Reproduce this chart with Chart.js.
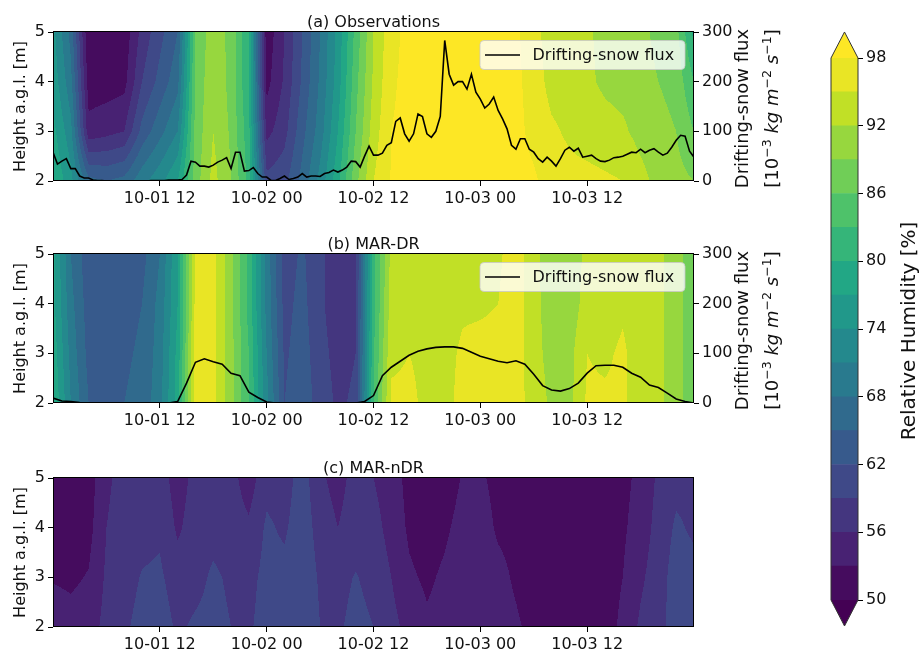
<!DOCTYPE html>
<html>
<head>
<meta charset="utf-8">
<title>Relative humidity and drifting-snow flux</title>
<script src="https://cdn.jsdelivr.net/npm/chart.js@4.4.1/dist/chart.umd.min.js"></script>
<style>
  html, body { margin: 0; padding: 0; background: #fff; }
  #figure { position: relative; width: 920px; height: 650px; overflow: hidden; }
  #figure canvas { position: absolute; }
</style>
</head>
<body>
<div id="figure">
  <canvas id="panelA" width="800" height="222" style="left:0;top:0"></canvas>
  <canvas id="panelB" width="800" height="222" style="left:0;top:222px"></canvas>
  <canvas id="panelC" width="800" height="204" style="left:0;top:446px"></canvas>
  <canvas id="cbar" width="120" height="650" style="left:800px;top:0"></canvas>
</div>
<script>
// RH profiles (filled contours) and drifting-snow flux, 10-01 to 10-04

// ---- data ----
// RH grid columns: hours since 10-01 00, every 2 h
const rhHours = [0, 2, 4, 6, 8, 10, 12, 14, 16, 18, 20, 22, 24, 26, 28, 30, 32, 34, 36,
                 38, 40, 42, 44, 46, 48, 50, 52, 54, 56, 58, 60, 62, 64, 66, 68, 70, 72];
const rhHeights = [2, 3, 4, 5];

// (a) observations, RH [%]
const obsRH5m = [75, 67, 50, 50, 51, 57, 61, 65, 86, 91, 88, 80, 51, 56, 62, 68, 75, 84, 92, 97,
                 99, 99.5, 99.5, 99.5, 99.5, 99, 98.6, 96, 93.5, 93, 92.5, 91, 90.5, 90, 88, 87, 79];
const obsRH4m = [76, 69, 51.5, 51.5, 52, 59, 63, 67, 86.5, 91.5, 88, 80, 52, 56.5, 62.5, 68.5, 75.5, 85, 92.5, 97.5,
                 99, 99.5, 99.5, 99.5, 99.5, 99, 98.8, 96.5, 94, 93.5, 92.5, 91.5, 91, 90.5, 89, 88, 83];
const obsRH3m = [78, 72, 54, 55, 56, 63, 67, 71, 87, 92, 88.5, 81, 55, 58, 64, 69.5, 77, 86, 93.5, 98,
                 99, 99.5, 99.5, 99.5, 99.5, 99.2, 99, 97, 95.5, 94.5, 93.5, 93, 92.5, 91, 90, 89, 86];
const obsRH2m = [80, 75, 66, 65, 66, 70, 73, 77, 87.5, 93, 89, 82, 60, 61, 66, 72, 79, 88, 95, 98.2,
                 99, 99.5, 99.5, 99.5, 99.5, 99.5, 99.3, 98.5, 96.5, 96, 96, 95.5, 95, 93, 91, 90, 89];

// (b) MAR-DR, RH [%]
const drRH5m = [78, 68, 63, 63, 63.5, 64, 68, 77, 96, 96, 90, 82, 70, 60.5, 62.5, 59.5, 57.5, 58, 82, 93,
                93.5, 93.5, 93.5, 94, 94, 94.5, 96.5, 93, 90, 89.5, 93, 93.5, 93.5, 93, 92.5, 91, 86];
const drRH4m = [78, 69, 63.5, 63.5, 64, 65, 69, 77, 96, 96, 90, 82, 70, 61, 63, 59.5, 57.5, 58.5, 82, 93.5,
                93.5, 93.5, 93.5, 94.5, 94.5, 95, 96.5, 93, 90.5, 90, 93.5, 93.5, 94.5, 93, 92.5, 91, 86];
const drRH3m = [79, 70, 64, 64, 64.5, 65.5, 69.5, 78, 96.5, 96, 90, 83, 71, 61.5, 63.5, 60, 58, 59, 82.5, 94.5,
                95, 94.5, 94, 95.5, 96, 96, 96.5, 93, 91, 91, 95, 94.5, 95.5, 93.5, 92.5, 91, 86];
const drRH2m = [80, 71, 65, 65, 65, 66, 70, 78.5, 97, 96, 90, 83, 72, 62, 64, 60.5, 58.5, 59.5, 83, 95.5,
                95.5, 94.5, 94, 96, 96.5, 96.5, 96.5, 93.5, 91.5, 91, 95.5, 95.5, 95.5, 93.5, 92.5, 91, 86];

// (c) MAR-nDR, RH [%]
const ndrRH5m = [51, 51, 51.5, 55.5, 57, 57.5, 57.5, 54.5, 57, 57.5, 57, 54.5, 58, 57.5, 60.5, 56.5, 55, 57, 56, 54.5,
                 52, 51, 51.5, 53.2, 53.5, 52, 51.5, 51, 51, 51, 51, 51, 52, 54, 56.5, 58, 58];
const ndrRH4m = [51, 51.3, 52, 56, 57.3, 58, 58.5, 55.5, 57.5, 58, 57.5, 56.5, 59.5, 58.5, 61, 57.5, 56, 57.5, 57, 55,
                 52.5, 51.5, 52.5, 54, 54.5, 52.5, 52, 51, 51, 51, 51, 51, 52.5, 54.5, 57, 59.5, 58.5];
const ndrRH3m = [52.8, 52.5, 53.2, 56.5, 57.8, 59.2, 59.5, 57.5, 58, 59.5, 58.5, 58, 60, 60, 61.5, 58.5, 58, 59.2, 58, 56,
                 53.5, 52.5, 53.5, 55, 55, 54, 52.5, 51, 51, 51, 51, 51, 53, 55.5, 57.5, 60.5, 60];
const ndrRH2m = [54.5, 54, 54.5, 57, 58.5, 60, 60.5, 58.5, 59.5, 60, 59, 58.5, 60.5, 61, 62, 59, 58.5, 60, 59, 57,
                 55, 53.5, 54, 55, 55, 54.5, 53.5, 52, 51, 51, 51, 51, 54, 56.5, 58, 60.5, 60.5];

// drifting-snow flux [1e-3 kg m-2 s-1]
// observations: every 30 min from 10-01 00
const obsFlux = [58, 34, 40, 45, 25, 25, 10, 6, 6, 2,
                 1, 1, 0, 0, 0, 0, 0, 0, 0, 0,
                 0, 0, 1, 1, 1, 1, 2, 2, 2, 3,
                 12, 40, 38, 30, 30, 28, 32, 38, 42, 47,
                 25, 58, 58, 20, 21, 27, 15, 8, 8, 1,
                 1, 5, 10, 3, 5, 8, 15, 8, 10, 10,
                 9, 15, 17, 22, 18, 22, 28, 40, 39, 28,
                 50, 70, 52, 52, 56, 72, 77, 120, 127, 95,
                 80, 95, 135, 130, 95, 88, 100, 130, 283, 215,
                 193, 200, 200, 185, 215, 179, 165, 147, 155, 169,
                 142, 125, 105, 72, 64, 85, 85, 64, 58, 45,
                 38, 48, 40, 30, 45, 62, 68, 60, 66, 48,
                 50, 52, 45, 40, 39, 42, 47, 48, 50, 54,
                 58, 57, 64, 57, 62, 65, 58, 52, 56, 68,
                 82, 92, 90, 60, 48];
// MAR-DR: hourly from 10-01 00
const marDrFlux = [10, 4, 3, 1, 0, 0, 0, 0, 0, 0,
                   0, 0, 0, 0, 3, 40, 82, 89, 83, 78,
                   60, 55, 22, 11, 2, 0, 0, 0, 0, 0,
                   0, 0, 0, 0, 0, 3, 15, 55, 72, 84,
                   96, 104, 109, 112, 113, 113, 110, 102, 94, 89,
                   84, 81, 85, 78, 58, 35, 26, 24, 29, 40,
                   60, 75, 76, 76, 72, 60, 52, 36, 31, 20,
                   8, 3, 0];

const timeTicks = [12, 24, 36, 48, 60];
const timeTickLabels = ['10-01 12', '10-02 00', '10-02 12', '10-03 00', '10-03 12'];
const heightTicks = [2, 3, 4, 5];
const fluxTicks = [0, 100, 200, 300];
const rhLevels = [50, 53, 56, 59, 62, 65, 68, 71, 74, 77, 80, 83, 86, 89, 92, 95, 98];
const rhTicks = [50, 56, 62, 68, 74, 80, 86, 92, 98];

// ---- colours ----
const FONT = '"DejaVu Sans"';
const TEXT = '#111';
Chart.defaults.font.family = FONT;
Chart.defaults.font.size = 16;
Chart.defaults.color = TEXT;

const viridisStops = ['#440154', '#482475', '#414487', '#355f8d', '#2a788e', '#21918c',
                      '#22a884', '#44bf70', '#7ad151', '#bddf26', '#fde725'];
const viridisRgb = viridisStops.map(h => [1, 3, 5].map(i => parseInt(h.slice(i, i + 2), 16)));

function viridis(t) {
    t = Math.min(1, Math.max(0, t)) * (viridisRgb.length - 1);
    const i = Math.min(Math.floor(t), viridisRgb.length - 2);
    const f = t - i;
    return viridisRgb[i].map((c, k) => Math.round(c + (viridisRgb[i + 1][k] - c) * f));
}

const rhMin = rhLevels[0];
const rhMax = rhLevels[rhLevels.length - 1];
// contourf colours each band by its mid value
const bandRgb = rhLevels.slice(0, -1).map((lo, k) =>
    viridis(((lo + rhLevels[k + 1]) / 2 - rhMin) / (rhMax - rhMin)));
const underRgb = viridis(0);
const overRgb = viridis(1);
const rgbStr = c => `rgb(${c[0]},${c[1]},${c[2]})`;

function rhColor(v) {
    if (v < rhMin) return underRgb;
    if (v >= rhMax) return overRgb;
    let k = 0;
    while (k < rhLevels.length - 2 && v >= rhLevels[k + 1]) k++;
    return bandRgb[k];
}

function locate(arr, v) {
    let i = 0;
    while (i < arr.length - 2 && v > arr[i + 1]) i++;
    const f = (v - arr[i]) / (arr[i + 1] - arr[i]);
    return [i, Math.min(1, Math.max(0, f))];
}

// ---- plugins ----
// fill the plot area with banded RH, sampled through the chart's scales
function contourFill(rows) {
    return {
        id: 'contourFill',
        beforeDatasetsDraw(chart) {
            const { left, top, right, bottom } = chart.chartArea;
            const xs = chart.scales.x, ys = chart.scales.y;
            const w = Math.round(right - left), h = Math.round(bottom - top);
            const off = document.createElement('canvas');
            off.width = w;
            off.height = h;
            const octx = off.getContext('2d');
            const img = octx.createImageData(w, h);
            const cols = [];
            for (let i = 0; i < w; i++) cols.push(locate(rhHours, xs.getValueForPixel(left + i + 0.5)));
            for (let j = 0; j < h; j++) {
                const [r, fr] = locate(rhHeights, ys.getValueForPixel(top + j + 0.5));
                const lo = rows[r], hi = rows[r + 1];
                for (let i = 0; i < w; i++) {
                    const [c, fc] = cols[i];
                    const a = lo[c] + (lo[c + 1] - lo[c]) * fc;
                    const b = hi[c] + (hi[c + 1] - hi[c]) * fc;
                    const col = rhColor(a + (b - a) * fr);
                    const p = (j * w + i) * 4;
                    img.data[p] = col[0];
                    img.data[p + 1] = col[1];
                    img.data[p + 2] = col[2];
                    img.data[p + 3] = 255;
                }
            }
            octx.putImageData(img, 0, 0);
            chart.ctx.drawImage(off, left, top);
        }
    };
}

// vertical text with superscripts, read bottom to top; x is the baseline
function drawRich(ctx, parts, x, y, size) {
    ctx.save();
    ctx.translate(x, y);
    ctx.rotate(-Math.PI / 2);
    ctx.textAlign = 'left';
    ctx.textBaseline = 'alphabetic';
    ctx.fillStyle = TEXT;
    const fontFor = p => `${p.it ? 'italic ' : ''}${p.sup ? size * 0.7 : size}px ${FONT}`;
    let total = 0;
    parts.forEach(p => {
        ctx.font = fontFor(p);
        p.w = ctx.measureText(p.t).width;
        total += p.w;
    });
    let cx = -total / 2;
    parts.forEach(p => {
        ctx.font = fontFor(p);
        ctx.fillText(p.t, cx, p.sup ? -size * 0.38 : 0);
        cx += p.w;
    });
    ctx.restore();
}

function panelDecor(title, withFlux) {
    return {
        id: 'panelDecor',
        afterDatasetsDraw(chart) {
            const ctx = chart.ctx;
            const a = chart.chartArea;
            ctx.save();
            // frame
            ctx.strokeStyle = '#000';
            ctx.lineWidth = 1;
            ctx.strokeRect(Math.round(a.left) + 0.5, Math.round(a.top) - 0.5,
                Math.round(a.right - a.left) - 1, Math.round(a.bottom - a.top));
            // panel title
            ctx.fillStyle = TEXT;
            ctx.font = `16px ${FONT}`;
            ctx.textAlign = 'center';
            ctx.textBaseline = 'alphabetic';
            ctx.fillText(title, (a.left + a.right) / 2, a.top - 5);
            // left axis label
            ctx.save();
            ctx.translate(a.left - 32, (a.top + a.bottom) / 2);
            ctx.rotate(-Math.PI / 2);
            ctx.textBaseline = 'middle';
            ctx.fillText('Height a.g.l. [m]', 0, 0);
            ctx.restore();
            if (withFlux) {
                // legend box inside upper right
                const ds = chart.data.datasets[0];
                const w = 205, h = 29;
                const x = a.right - 9 - w, y = a.top + 8.5;
                ctx.beginPath();
                ctx.roundRect(x, y, w, h, 4);
                ctx.fillStyle = 'rgba(255,255,255,0.8)';
                ctx.fill();
                ctx.strokeStyle = 'rgba(200,200,200,0.8)';
                ctx.lineWidth = 1;
                ctx.stroke();
                ctx.beginPath();
                ctx.moveTo(x + 5, y + h / 2);
                ctx.lineTo(x + 40, y + h / 2);
                ctx.strokeStyle = ds.borderColor;
                ctx.lineWidth = ds.borderWidth;
                ctx.stroke();
                ctx.fillStyle = TEXT;
                ctx.textAlign = 'left';
                ctx.textBaseline = 'middle';
                ctx.fillText(ds.label, x + 52.5, y + h / 2 + 1);
                // right axis label, two lines
                const yMid = (a.top + a.bottom) / 2 + 2;
                drawRich(ctx, [{ t: 'Drifting-snow flux' }], a.right + 54, yMid, 18);
                drawRich(ctx, [
                    { t: '[10' }, { t: '\u22123', sup: true },
                    { t: ' kg m', it: true }, { t: '\u22122', sup: true },
                    { t: ' s', it: true }, { t: '\u22121', sup: true },
                    { t: ']' }
                ], a.right + 84, yMid, 18);
            }
            ctx.restore();
        }
    };
}

// ---- panels ----
function tickAxis(values) {
    return s => { s.ticks = values.map(v => ({ value: v })); };
}

function buildPanel(canvasId, title, rows, flux, fluxHours, xAxisHeight) {
    const datasets = [];
    if (flux) {
        datasets.push({
            label: 'Drifting-snow flux',
            data: flux.map((v, i) => ({ x: fluxHours[i], y: v })),
            yAxisID: 'y1',
            borderColor: '#000',
            borderWidth: 1.6,
            pointRadius: 0,
            tension: 0,
            fill: false
        });
    }
    const tickGrid = { drawOnChartArea: false, tickLength: 5, color: '#000', lineWidth: 1 };
    const scales = {
        x: {
            type: 'linear', min: 0, max: 72,
            afterBuildTicks: tickAxis(timeTicks),
            ticks: { callback: (v, i) => timeTickLabels[i], maxRotation: 0, autoSkip: false, padding: 3 },
            grid: tickGrid,
            border: { display: false },
            afterFit: s => { s.height = xAxisHeight; }
        },
        y: {
            type: 'linear', position: 'left', min: 2, max: 5,
            afterBuildTicks: tickAxis(heightTicks),
            ticks: { padding: 3 },
            grid: tickGrid,
            border: { display: false },
            afterFit: s => { s.width = 53; }
        }
    };
    if (flux) {
        scales.y1 = {
            type: 'linear', position: 'right', min: 0, max: 300,
            afterBuildTicks: tickAxis(fluxTicks),
            ticks: { padding: 3 },
            grid: tickGrid,
            border: { display: false },
            afterFit: s => { s.width = 106; }
        };
    }
    return new Chart(document.getElementById(canvasId), {
        type: 'line',
        data: { datasets },
        options: {
            responsive: false,
            animation: false,
            events: [],
            layout: { padding: { top: 32, right: flux ? 0 : 106 } },
            plugins: { legend: { display: false }, tooltip: { enabled: false } },
            scales
        },
        plugins: [contourFill(rows), panelDecor(title, !!flux)]
    });
}

const obsFluxHours = obsFlux.map((_, i) => i * 0.5);
const marFluxHours = marDrFlux.map((_, i) => i);

buildPanel('panelA', '(a) Observations', [obsRH2m, obsRH3m, obsRH4m, obsRH5m], obsFlux, obsFluxHours, 41);
buildPanel('panelB', '(b) MAR-DR', [drRH2m, drRH3m, drRH4m, drRH5m], marDrFlux, marFluxHours, 41);
buildPanel('panelC', '(c) MAR-nDR', [ndrRH2m, ndrRH3m, ndrRH4m, ndrRH5m], null, null, 23);

// ---- colorbar ----
const cbarDecor = {
    id: 'cbarDecor',
    afterDraw(chart) {
        const ctx = chart.ctx;
        const a = chart.chartArea;
        const ys = chart.scales.y;
        const yTop = ys.getPixelForValue(rhMax), yBot = ys.getPixelForValue(rhMin);
        const ext = (yBot - yTop) * 0.048;
        const mid = (a.left + a.right) / 2;
        ctx.save();
        ctx.fillStyle = rgbStr(overRgb);
        ctx.beginPath();
        ctx.moveTo(a.left, yTop); ctx.lineTo(mid, yTop - ext); ctx.lineTo(a.right, yTop);
        ctx.closePath(); ctx.fill();
        ctx.fillStyle = rgbStr(underRgb);
        ctx.beginPath();
        ctx.moveTo(a.left, yBot); ctx.lineTo(mid, yBot + ext); ctx.lineTo(a.right, yBot);
        ctx.closePath(); ctx.fill();
        ctx.strokeStyle = '#333';
        ctx.lineWidth = 1;
        ctx.beginPath();
        ctx.moveTo(a.left, yTop); ctx.lineTo(mid, yTop - ext); ctx.lineTo(a.right, yTop);
        ctx.lineTo(a.right, yBot); ctx.lineTo(mid, yBot + ext); ctx.lineTo(a.left, yBot);
        ctx.closePath(); ctx.stroke();
        // label
        ctx.translate(115, (yTop + yBot) / 2 + 2);
        ctx.rotate(-Math.PI / 2);
        ctx.fillStyle = TEXT;
        ctx.font = `20px ${FONT}`;
        ctx.textAlign = 'center';
        ctx.textBaseline = 'alphabetic';
        ctx.fillText('Relative Humidity [%]', 0, 0);
        ctx.restore();
    }
};

new Chart(document.getElementById('cbar'), {
    type: 'bar',
    data: {
        labels: [''],
        datasets: bandRgb.map((c, k) => ({
            data: [[rhLevels[k], rhLevels[k + 1]]],
            backgroundColor: rgbStr(c),
            borderWidth: 0,
            barPercentage: 1,
            categoryPercentage: 1,
            stack: 'cbar'
        }))
    },
    options: {
        responsive: false,
        animation: false,
        events: [],
        layout: { padding: { left: 31, top: 58, bottom: 50 } },
        plugins: { legend: { display: false }, tooltip: { enabled: false } },
        scales: {
            x: { display: false, stacked: true },
            y: {
                position: 'right', min: rhMin, max: rhMax, stacked: false,
                afterBuildTicks: tickAxis(rhTicks),
                ticks: { padding: 3 },
                grid: { drawOnChartArea: false, tickLength: 5, color: '#000' },
                border: { display: false },
                afterFit: s => { s.width = 62; }
            }
        }
    },
    plugins: [cbarDecor]
});
</script>
</body>
</html>
